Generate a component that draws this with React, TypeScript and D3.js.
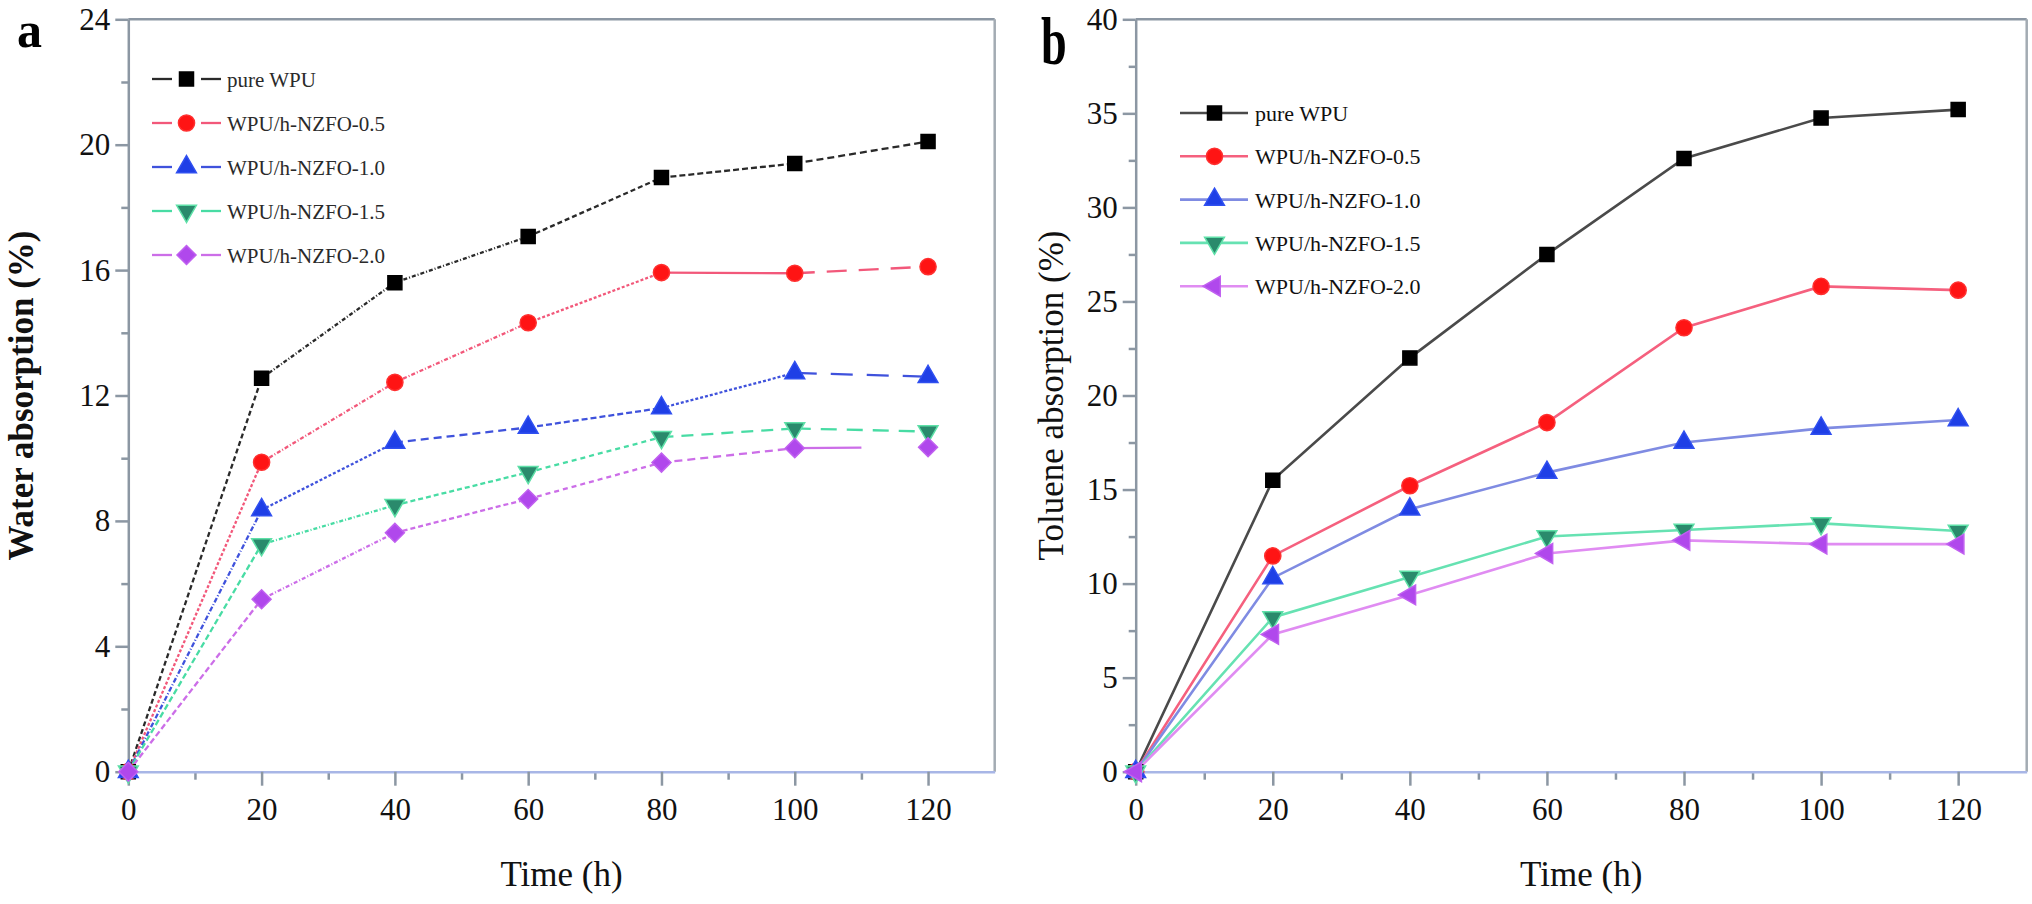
import React, { useEffect, useRef } from 'react';
import * as d3 from 'd3';

// ---------- data ----------
const times = [0, 20, 40, 60, 80, 100, 120];
const seriesNames = ['pure WPU', 'WPU/h-NZFO-0.5', 'WPU/h-NZFO-1.0', 'WPU/h-NZFO-1.5', 'WPU/h-NZFO-2.0'];

const waterPure = [0, 12.55, 15.6, 17.07, 18.95, 19.4, 20.1];
const water05 = [0, 9.87, 12.42, 14.32, 15.92, 15.9, 16.11];
const water10 = [0, 8.35, 10.5, 10.98, 11.6, 12.72, 12.6];
const water15 = [0, 7.25, 8.5, 9.55, 10.67, 10.95, 10.85];
const water20 = [0, 5.5, 7.62, 8.7, 9.86, 10.32, 10.35];

const toluenePure = [0, 15.5, 22.0, 27.5, 32.6, 34.75, 35.2];
const toluene05 = [0, 11.47, 15.2, 18.56, 23.6, 25.8, 25.6];
const toluene10 = [0, 10.3, 13.95, 15.9, 17.5, 18.25, 18.7];
const toluene15 = [0, 8.2, 10.35, 12.5, 12.85, 13.2, 12.8];
const toluene20 = [0, 7.3, 9.4, 11.6, 12.3, 12.1, 12.1];

const timeTicks = [0, 20, 40, 60, 80, 100, 120];
const timeMinorTicks = [10, 30, 50, 70, 90, 110];
const waterTicks = [0, 4, 8, 12, 16, 20, 24];
const waterMinorTicks = [2, 6, 10, 14, 18, 22];
const tolueneTicks = [0, 5, 10, 15, 20, 25, 30, 35, 40];
const tolueneMinorTicks = [2.5, 7.5, 12.5, 17.5, 22.5, 27.5, 32.5, 37.5];

// ---------- styles ----------
const markerFill = ['#000000', '#ff1414', '#1f3fe6', '#2a8a6c', '#b048ec'];
const markerStroke = ['#000000', '#ff3030', '#3050f0', '#5ee0a8', '#c060f0'];
const lineColorA = ['#2a2a2a', '#f2587a', '#3f52dc', '#48dca4', '#cc6ee8'];
const lineColorB = ['#4a4a4a', '#f5607e', '#7f8be2', '#66e2b2', '#e08cf2'];
// per-segment dash patterns for panel a ("half" = solid half-segment)
const dashA = [
  ['5,3', '4,2,1,2', '4,2,1,2', '5,3', '6,3', '7,4'],
  ['3,2', '4,2,1,2', '4,2,1,2', '3,2', 'none', '20,12'],
  ['5,2,1,2', '3,2', '8,5', '6,3', '3,2', '22,14'],
  ['6,3', '4,2,1,2', '5,3', '5,4', '12,8', '16,10'],
  ['6,3', '4,2,1,2', '5,3', '5,4', '8,5', 'half'],
];
const symA = ['square', 'circle', 'up', 'down', 'diamond'];
const symB = ['square', 'circle', 'up', 'down', 'left'];

const FONT = "'Liberation Serif', 'Times New Roman', serif";
const AXIS_GRAY = '#8c97a3';
const XAXIS_BLUE = '#a8b6e6';

function symbolPath(kind: string): { d: string; rot: number } {
  const sq = d3.symbol().type(d3.symbolSquare);
  switch (kind) {
    case 'square': return { d: sq.size(196)() as string, rot: 0 };
    case 'circle': return { d: d3.symbol().type(d3.symbolCircle).size(205)() as string, rot: 0 };
    case 'up': return { d: d3.symbol().type(d3.symbolTriangle).size(170)() as string, rot: 0 };
    case 'down': return { d: d3.symbol().type(d3.symbolTriangle).size(170)() as string, rot: 180 };
    case 'left': return { d: d3.symbol().type(d3.symbolTriangle).size(170)() as string, rot: -90 };
    case 'diamond': return { d: sq.size(180)() as string, rot: 45 };
  }
  return { d: '', rot: 0 };
}

interface PanelCfg {
  x0: number; x1: number; y0: number; y1: number;
  yMax: number; yTicks: number[]; yMinor: number[];
  data: number[][]; letter: string; yTitle: string; yTitleX: number; yTitleBold: boolean;
  letterX: number; letterY: number; letterSize: number; letterScaleX: number;
  legendX: number; legendY: number; legendStep: number; legendFont: number; legendSplit: boolean;
  panel: 'a' | 'b';
}

function drawPanel(svg: d3.Selection<SVGSVGElement, unknown, null, undefined>, c: PanelCfg) {
  const g = svg.append('g');
  const x = d3.scaleLinear().domain([0, 130]).range([c.x0, c.x1]);
  const y = d3.scaleLinear().domain([0, c.yMax]).range([c.y0, c.y1]);

  // frame top & right
  g.append('line').attr('x1', c.x0).attr('x2', c.x1).attr('y1', c.y1).attr('y2', c.y1)
    .attr('stroke', AXIS_GRAY).attr('stroke-width', 2.5);
  g.append('line').attr('x1', c.x1).attr('x2', c.x1).attr('y1', c.y1).attr('y2', c.y0)
    .attr('stroke', '#a3abb3').attr('stroke-width', 2.5);

  // y axis minor
  const yMinorAxis = d3.axisLeft(y).tickValues(c.yMinor).tickSize(7).tickSizeOuter(0).tickFormat(() => '');
  const gym = g.append('g').attr('transform', `translate(${c.x0},0)`).call(yMinorAxis);
  gym.select('.domain').remove();
  gym.selectAll('line').attr('stroke', AXIS_GRAY).attr('stroke-width', 2.5);

  // y axis major
  const yAxis = d3.axisLeft(y).tickValues(c.yTicks).tickSize(13).tickSizeOuter(0).tickPadding(5)
    .tickFormat((d) => String(d));
  const gy = g.append('g').attr('transform', `translate(${c.x0},0)`).call(yAxis);
  gy.select('.domain').attr('stroke', AXIS_GRAY).attr('stroke-width', 2.5);
  gy.selectAll('line').attr('stroke', AXIS_GRAY).attr('stroke-width', 2.5);
  gy.selectAll('text').attr('font-family', FONT).attr('font-size', 31).attr('fill', '#111');

  // x axis minor
  const xMinorAxis = d3.axisBottom(x).tickValues(timeMinorTicks).tickSize(8).tickSizeOuter(0).tickFormat(() => '');
  const gxm = g.append('g').attr('transform', `translate(0,${c.y0})`).call(xMinorAxis);
  gxm.select('.domain').remove();
  gxm.selectAll('line').attr('stroke', AXIS_GRAY).attr('stroke-width', 2.5);

  // x axis major
  const xAxis = d3.axisBottom(x).tickValues(timeTicks).tickSize(14).tickSizeOuter(0).tickPadding(12)
    .tickFormat((d) => String(d));
  const gx = g.append('g').attr('transform', `translate(0,${c.y0})`).call(xAxis);
  gx.select('.domain').attr('stroke', XAXIS_BLUE).attr('stroke-width', 2.5);
  gx.selectAll('line').attr('stroke', AXIS_GRAY).attr('stroke-width', 2.5);
  gx.selectAll('text').attr('font-family', FONT).attr('font-size', 31).attr('fill', '#111');

  // titles
  g.append('text').attr('x', (c.x0 + c.x1) / 2).attr('y', 886).attr('text-anchor', 'middle')
    .attr('font-family', FONT).attr('font-size', 35).attr('fill', '#111').text('Time (h)');
  g.append('text').attr('transform', `translate(${c.yTitleX},${(c.y0 + c.y1) / 2}) rotate(-90)`)
    .attr('text-anchor', 'middle').attr('font-family', FONT).attr('font-size', 35)
    .attr('font-weight', c.yTitleBold ? 'bold' : 'normal').attr('fill', '#111').text(c.yTitle);
  g.append('text').attr('transform', `translate(${c.letterX},${c.letterY}) scale(${c.letterScaleX},1)`)
    .attr('font-family', FONT).attr('font-size', c.letterSize).attr('font-weight', 'bold')
    .attr('fill', '#000').text(c.letter);

  // lines
  const line = d3.line<[number, number]>().x((d) => x(d[0])).y((d) => y(d[1]));
  c.data.forEach((vals, si) => {
    const pts: [number, number][] = times.map((t, i) => [t, vals[i]]);
    if (c.panel === 'b') {
      g.append('path').attr('d', line(pts) as string).attr('fill', 'none')
        .attr('stroke', lineColorB[si]).attr('stroke-width', 2.6);
    } else {
      for (let i = 0; i < pts.length - 1; i++) {
        const dash = dashA[si][i];
        const p = g.append('path').attr('d', line([pts[i], pts[i + 1]]) as string).attr('fill', 'none')
          .attr('stroke', lineColorA[si]).attr('stroke-width', 2.3);
        if (dash === 'half') {
          p.attr('pathLength', 1).attr('stroke-dasharray', '0.5 1');
        } else if (dash !== 'none') {
          p.attr('stroke-dasharray', dash);
        }
      }
    }
  });

  // markers
  const syms = c.panel === 'a' ? symA : symB;
  c.data.forEach((vals, si) => {
    const sp = symbolPath(syms[si]);
    times.forEach((t, i) => {
      g.append('path').attr('d', sp.d)
        .attr('transform', `translate(${x(t)},${y(vals[i])}) rotate(${sp.rot})`)
        .attr('fill', markerFill[si]).attr('stroke', markerStroke[si]).attr('stroke-width', 1.5);
    });
  });

  // legend
  seriesNames.forEach((name, si) => {
    const cy = c.legendY + si * c.legendStep;
    const lx = c.legendX;
    const col = c.panel === 'a' ? lineColorA[si] : lineColorB[si];
    if (c.legendSplit) {
      g.append('line').attr('x1', lx).attr('x2', lx + 20).attr('y1', cy).attr('y2', cy)
        .attr('stroke', col).attr('stroke-width', 2.3);
      g.append('line').attr('x1', lx + 49).attr('x2', lx + 69).attr('y1', cy).attr('y2', cy)
        .attr('stroke', col).attr('stroke-width', 2.3);
    } else {
      g.append('line').attr('x1', lx).attr('x2', lx + 68).attr('y1', cy).attr('y2', cy)
        .attr('stroke', col).attr('stroke-width', 2.6);
    }
    const sp = symbolPath(syms[si]);
    g.append('path').attr('d', sp.d)
      .attr('transform', `translate(${lx + 34.5},${cy}) rotate(${sp.rot})`)
      .attr('fill', markerFill[si]).attr('stroke', markerStroke[si]).attr('stroke-width', 1.5);
    g.append('text').attr('x', lx + 75).attr('y', cy + 8).attr('font-family', FONT)
      .attr('font-size', c.legendFont).attr('fill', c.panel === 'a' ? '#2a2a2a' : '#111').text(name);
  });
}

export default function App() {
  const ref = useRef<SVGSVGElement | null>(null);
  useEffect(() => {
    if (!ref.current) return;
    const svg = d3.select(ref.current);
    svg.selectAll('*').remove();
    svg.append('rect').attr('width', 2032).attr('height', 904).attr('fill', '#fff');
    drawPanel(svg, {
      x0: 128.3, x1: 994.7, y0: 771.7, y1: 19.3, yMax: 24,
      yTicks: waterTicks, yMinor: waterMinorTicks,
      data: [waterPure, water05, water10, water15, water20],
      letter: 'a', yTitle: 'Water absorption (%)', yTitleX: 33, yTitleBold: true,
      letterX: 17, letterY: 47, letterSize: 50, letterScaleX: 1,
      legendX: 152, legendY: 79, legendStep: 44, legendFont: 21, legendSplit: true, panel: 'a',
    });
    drawPanel(svg, {
      x0: 1135.7, x1: 2026.7, y0: 771.7, y1: 19.3, yMax: 40,
      yTicks: tolueneTicks, yMinor: tolueneMinorTicks,
      data: [toluenePure, toluene05, toluene10, toluene15, toluene20],
      letter: 'b', yTitle: 'Toluene absorption (%)', yTitleX: 1063, yTitleBold: false,
      letterX: 1041, letterY: 64, letterSize: 68, letterScaleX: 0.68,
      legendX: 1180, legendY: 113, legendStep: 43.3, legendFont: 22, legendSplit: false, panel: 'b',
    });
  }, []);
  return (
    <svg ref={ref} width={2032} height={904}
      style={{ position: 'absolute', left: 0, top: 0, display: 'block' }} />
  );
}
